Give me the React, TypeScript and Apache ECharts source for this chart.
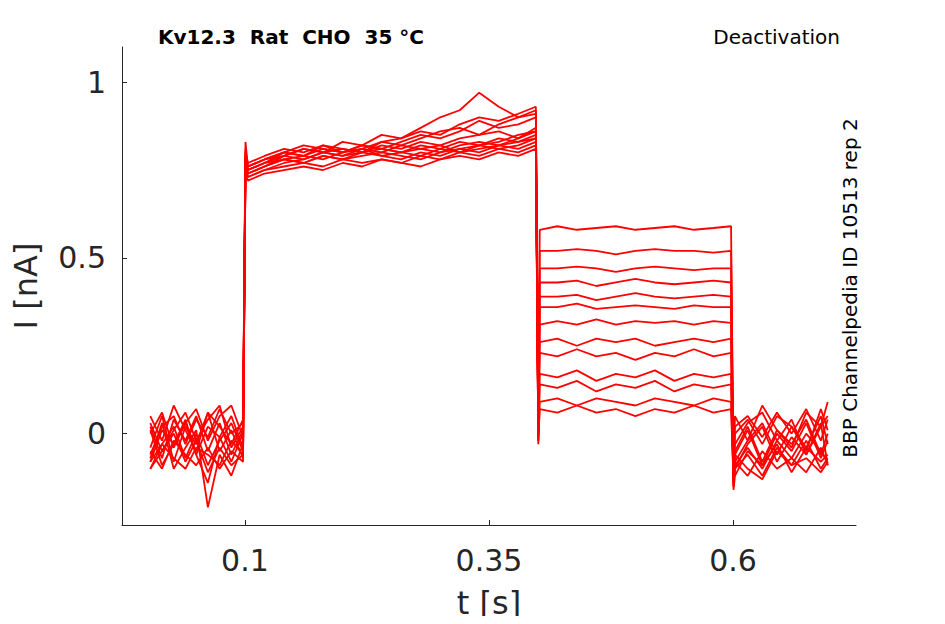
import React, { useEffect, useRef } from "react";
import * as echarts from "echarts";

const T1 = [0.003, 0.015, 0.027, 0.039, 0.05, 0.062, 0.074, 0.086, 0.098];
const T2 = [0.1005, 0.103, 0.12, 0.14, 0.16, 0.18, 0.2, 0.22, 0.24, 0.26, 0.28, 0.3, 0.32, 0.34, 0.36, 0.38, 0.398];
const T3 = [0.4005, 0.402, 0.42, 0.44, 0.46, 0.48, 0.5, 0.52, 0.54, 0.56, 0.58, 0.598];
const T4 = [0.6005, 0.602, 0.615, 0.63, 0.645, 0.66, 0.675, 0.69, 0.697];

const traces: number[][][] = [
  [[0.05,-0.02,0.08,0.01,-0.05,0.06,0.02,-0.03,0.04],[0.83,0.76,0.78,0.8,0.79,0.82,0.81,0.8,0.83,0.84,0.86,0.85,0.88,0.9,0.89,0.91,0.93],[0.02,0.58,0.59,0.58,0.585,0.59,0.58,0.585,0.59,0.58,0.585,0.59],[-0.12,0.02,0.05,-0.01,0.06,0.0,0.07,-0.02,0.04]],
  [[0.0,0.06,-0.04,0.03,0.07,-0.02,0.05,0.08,-0.01],[0.81,0.75,0.77,0.79,0.81,0.8,0.83,0.82,0.85,0.84,0.87,0.9,0.92,0.97,0.93,0.9,0.92],[0.03,0.52,0.52,0.525,0.52,0.51,0.52,0.525,0.52,0.52,0.515,0.52],[-0.1,0.05,-0.02,0.08,0.01,-0.04,0.06,0.02,0.09]],
  [[-0.06,0.02,0.05,-0.03,0.04,-0.01,0.07,0.0,0.03],[0.8,0.77,0.79,0.81,0.8,0.82,0.8,0.81,0.83,0.82,0.84,0.86,0.87,0.85,0.88,0.9,0.91],[0.04,0.47,0.47,0.475,0.47,0.46,0.47,0.475,0.47,0.465,0.47,0.47],[-0.14,0.0,0.04,-0.03,0.05,0.02,-0.05,0.07,0.01]],
  [[0.03,-0.05,0.01,0.06,-0.02,0.04,0.08,-0.04,0.02],[0.79,0.74,0.76,0.78,0.79,0.81,0.8,0.82,0.81,0.83,0.85,0.84,0.86,0.89,0.87,0.88,0.9],[0.02,0.43,0.43,0.435,0.42,0.43,0.44,0.43,0.425,0.43,0.435,0.43],[-0.11,-0.03,0.03,0.06,-0.02,0.04,-0.06,0.02,0.05]],
  [[-0.08,0.01,-0.03,0.04,-0.06,0.02,-0.01,0.05,-0.04],[0.78,0.73,0.75,0.77,0.78,0.8,0.81,0.8,0.82,0.81,0.83,0.82,0.84,0.85,0.86,0.84,0.87],[0.01,0.39,0.39,0.395,0.38,0.39,0.4,0.39,0.385,0.39,0.395,0.39],[-0.13,-0.05,0.02,-0.08,0.01,-0.03,0.04,-0.06,0.0]],
  [[0.02,-0.07,0.04,-0.02,0.05,-0.05,0.03,-0.06,0.01],[0.8,0.76,0.78,0.8,0.82,0.81,0.8,0.82,0.81,0.8,0.82,0.81,0.83,0.82,0.84,0.83,0.85],[0.0,0.36,0.36,0.37,0.355,0.36,0.365,0.36,0.355,0.365,0.36,0.36],[-0.15,-0.08,-0.02,0.03,-0.06,0.02,-0.04,0.05,-0.03]],
  [[-0.04,0.05,-0.08,0.02,-0.03,0.06,-0.05,0.01,-0.07],[0.77,0.74,0.76,0.79,0.78,0.8,0.79,0.81,0.8,0.82,0.81,0.8,0.82,0.83,0.82,0.84,0.86],[0.02,0.31,0.32,0.31,0.325,0.31,0.32,0.315,0.32,0.31,0.32,0.315],[-0.12,-0.06,0.01,-0.09,0.0,-0.05,0.03,-0.07,-0.02]],
  [[-0.1,-0.03,0.02,-0.07,0.0,-0.09,-0.02,0.03,-0.05],[0.79,0.75,0.77,0.8,0.79,0.78,0.8,0.81,0.79,0.8,0.81,0.82,0.8,0.82,0.83,0.85,0.86],[0.01,0.26,0.27,0.25,0.27,0.26,0.27,0.25,0.26,0.27,0.26,0.27],[-0.14,-0.1,-0.03,0.02,-0.08,-0.01,-0.06,0.03,-0.09]],
  [[0.01,-0.09,-0.03,0.03,-0.06,-0.14,-0.01,-0.08,0.0],[0.78,0.76,0.78,0.79,0.81,0.8,0.79,0.8,0.81,0.8,0.79,0.81,0.8,0.81,0.82,0.83,0.84],[0.0,0.23,0.22,0.24,0.22,0.23,0.21,0.23,0.22,0.24,0.22,0.23],[-0.15,-0.09,-0.04,-0.1,-0.02,-0.07,0.0,-0.05,-0.08]],
  [[-0.07,0.03,-0.1,-0.04,0.01,-0.21,-0.06,-0.12,-0.03],[0.76,0.74,0.76,0.78,0.77,0.79,0.78,0.79,0.8,0.79,0.78,0.8,0.81,0.82,0.81,0.82,0.84],[-0.01,0.17,0.16,0.18,0.15,0.17,0.16,0.18,0.15,0.17,0.16,0.17],[-0.16,-0.12,-0.05,-0.09,-0.03,-0.11,-0.04,-0.08,-0.06]],
  [[-0.1,-0.05,0.0,-0.08,-0.02,-0.11,-0.04,-0.09,-0.06],[0.75,0.73,0.75,0.76,0.77,0.76,0.78,0.77,0.78,0.77,0.79,0.78,0.8,0.79,0.81,0.8,0.82],[-0.02,0.14,0.13,0.15,0.12,0.14,0.13,0.15,0.12,0.14,0.13,0.14],[-0.13,-0.1,-0.06,-0.12,-0.04,-0.09,-0.02,-0.1,-0.07]],
  [[-0.05,-0.1,-0.02,-0.06,-0.09,-0.04,-0.1,-0.05,-0.08],[0.77,0.75,0.77,0.78,0.77,0.79,0.78,0.8,0.79,0.78,0.8,0.79,0.81,0.8,0.82,0.81,0.83],[-0.03,0.09,0.1,0.08,0.1,0.09,0.08,0.1,0.09,0.08,0.1,0.09],[-0.14,-0.08,-0.12,-0.05,-0.1,-0.07,-0.11,-0.04,-0.09]],
  [[-0.08,-0.03,-0.07,-0.1,-0.04,-0.06,-0.09,-0.02,-0.06],[0.74,0.72,0.74,0.75,0.76,0.75,0.77,0.76,0.78,0.77,0.76,0.78,0.79,0.78,0.8,0.79,0.81],[-0.02,0.07,0.06,0.08,0.06,0.07,0.05,0.07,0.06,0.08,0.06,0.07],[-0.12,-0.06,-0.1,-0.13,-0.05,-0.09,-0.07,-0.11,-0.08]],
];

const xTicks = [0.1, 0.35, 0.6];
const yTicks = [0, 0.5, 1];

export default function App() {
  const ref = useRef<HTMLDivElement>(null);
  useEffect(() => {
    const chart = echarts.init(ref.current!, null, { renderer: "svg" });
    const T = [...T1, ...T2, ...T3, ...T4];
    const series = traces.map((tr) => {
      const v = [...tr[0], ...tr[1], ...tr[2], ...tr[3]];
      return {
        type: "line", data: T.map((t, i) => [t, v[i]]), showSymbol: false,
        lineStyle: { color: "#ff0000", width: 1.8 }, silent: true,
      };
    });
    const txt = "#262626";
    chart.setOption({
      animation: false,
      grid: { left: 122, top: 47, right: 89, bottom: 98 },
      xAxis: {
        type: "value", min: -0.026, max: 0.726,
        name: "t [s]", nameLocation: "middle", nameGap: 62,
        nameTextStyle: { fontSize: 32, color: txt, fontFamily: "DejaVu Sans" },
        axisLine: { onZero: false, lineStyle: { color: txt } },
        axisTick: { customValues: xTicks, inside: true, lineStyle: { color: txt } },
        axisLabel: { customValues: xTicks, fontSize: 30, color: txt, margin: 20, fontFamily: "DejaVu Sans" },
        splitLine: { show: false },
      },
      yAxis: {
        type: "value", min: -0.26, max: 1.1,
        name: "I [nA]", nameLocation: "middle", nameGap: 80,
        nameTextStyle: { fontSize: 32, color: txt, fontFamily: "DejaVu Sans" },
        axisLine: { show: true, onZero: false, lineStyle: { color: txt } },
        axisTick: { show: true, customValues: yTicks, inside: true, lineStyle: { color: txt } },
        axisLabel: { customValues: yTicks, fontSize: 30, color: txt, margin: 16, fontFamily: "DejaVu Sans" },
        splitLine: { show: false },
      },
      graphic: [
        { type: "text", left: 158, top: 27, style: { text: "Kv12.3  Rat  CHO  35 °C", font: "bold 20px DejaVu Sans", fill: "#000" } },
        { type: "text", right: 105, top: 27, style: { text: "Deactivation", font: "20px DejaVu Sans", fill: "#000" } },
        { type: "text", x: 860, y: 288, rotation: Math.PI / 2, style: { text: "BBP Channelpedia ID 10513 rep 2", font: "20px DejaVu Sans", fill: "#000", align: "center", verticalAlign: "bottom" } },
      ],
      series,
    });
    return () => chart.dispose();
  }, []);
  return <div ref={ref} style={{ width: 945, height: 624, margin: -8, background: "#fff" }} />;
}
